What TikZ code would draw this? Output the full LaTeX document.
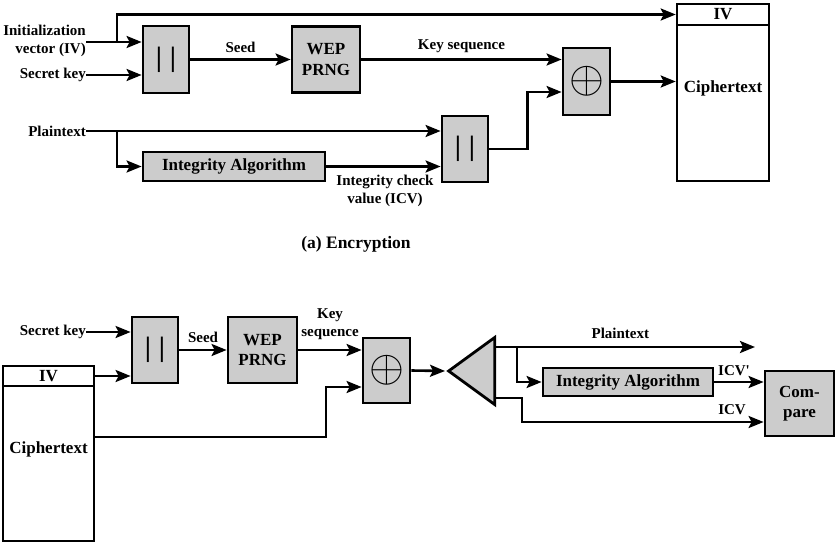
\documentclass[tikz,border=0pt]{standalone}
\usepackage{fontspec}
\setmainfont{Liberation Serif}
\usetikzlibrary{arrows.meta,shapes.geometric}
\begin{document}
\begin{tikzpicture}[x=1pt,y=-1pt,
    font=\bfseries\fontsize{15}{18}\selectfont,
    box/.style={draw, line width=2.8pt, fill=black!20, inner sep=0pt,
        font=\bfseries\fontsize{17}{20.5}\selectfont, align=center},
    cell/.style={draw, line width=2.6pt, fill=white, inner sep=0pt,
        font=\bfseries\fontsize{17}{19}\selectfont},
    arr/.style={line width=2.6pt, -{Stealth[length=15pt,width=12pt,inset=3pt]}},
    lbl/.style={inner sep=0pt, align=center}]
    \useasboundingbox (0,0) rectangle (838,546);

    % (a) encryption
    \node[box, minimum width=46, minimum height=67] (cat1) at (166,59.5)
        {\fontsize{28}{28}\selectfont |\hspace{8pt}|};
    \node[box, minimum width=68, minimum height=66] (wep1) at (326,59.5)
        {WEP\\PRNG};
    \node[box, minimum width=182, minimum height=29] (ia1) at (234,166.5)
        {Integrity Algorithm};
    \node[box, minimum width=46, minimum height=66] (cat2) at (465,149)
        {\fontsize{28}{28}\selectfont |\hspace{8pt}|};
    \node[box, minimum width=47, minimum height=67] (xor1) at (586.5,81.5)
        {\scalebox{2.6}{$\oplus$}};
    \node[cell, minimum width=92, minimum height=21] (iv1) at (723,14.5) {IV};
    \node[cell, minimum width=92, minimum height=156] (ct1) at (723,103) {};
    \node[lbl, font=\bfseries\fontsize{17}{19}\selectfont] (ct1txt)
        at (723,88) {Ciphertext};

    \node[lbl, anchor=east, align=right] (ivin) at (86,41)
        {Initialization\\vector (IV)};
    \node[lbl, anchor=east] (sk1) at (86,75) {Secret key};
    \node[lbl, anchor=east] (pt1) at (86,131) {Plaintext};
    \coordinate (ivbr) at (117,42);
    \coordinate (ptbr) at (117,131);

    \draw[arr] (ivin.east |- ivbr) -- (cat1.west |- ivbr);
    \draw[arr] (ivbr) |- (iv1.west);
    \draw[arr] (sk1.east) -- (cat1.west |- sk1.east);
    \draw[arr] (cat1.east) -- (wep1.west)
        node[lbl, midway, above=6pt] (seed1) {Seed};
    \draw[arr] (wep1.east) -- (xor1.west |- wep1.east)
        node[lbl, midway, above=5pt] (ks1) {Key sequence};
    \draw[arr] (pt1.east) -- (cat2.west |- pt1.east);
    \draw[arr] (ptbr) |- (ia1.west);
    \draw[arr] (ia1.east) -- (cat2.west |- ia1.east);
    \node[lbl] (icv1) at (385,191) {Integrity check\\value (ICV)};
    \draw[arr] (cat2.east) -- ++(38,0) |- ([yshift=-10.5pt]xor1.west);
    \draw[arr] (xor1.east) -- (ct1.west |- xor1.east);

    \node[lbl, font=\bfseries\fontsize{17.5}{20}\selectfont] (capa)
        at (356,244) {(a) Encryption};

    % decryption
    \node[lbl, anchor=east] (sk2) at (86,332) {Secret key};
    \node[box, minimum width=46, minimum height=66] (cat3) at (155,350)
        {\fontsize{28}{28}\selectfont |\hspace{8pt}|};
    \node[cell, minimum width=91, minimum height=20] (iv2) at (48.5,376) {IV};
    \node[cell, minimum width=91, minimum height=155] (ct2) at (48.5,463.5) {};
    \node[lbl, font=\bfseries\fontsize{17}{19}\selectfont] (ct2txt)
        at (48.5,449) {Ciphertext};
    \node[box, minimum width=69, minimum height=66] (wep2) at (262.5,350)
        {WEP\\PRNG};
    \node[box, minimum width=47, minimum height=65] (xor2) at (386.5,370.5)
        {\scalebox{2.6}{$\oplus$}};
    \node[isosceles triangle, isosceles triangle stretches, shape border rotate=180,
        draw, line width=2.8pt, fill=black!20, inner sep=0pt,
        minimum width=67, minimum height=46, anchor=apex] (split) at (445,371) {};
    \node[box, minimum width=170, minimum height=28] (ia2) at (628,382)
        {Integrity Algorithm};
    \node[box, minimum width=69, minimum height=65] (cmp) at (799.5,403.5)
        {Com-\\pare};
    \coordinate (ptout) at (755,347);
    \coordinate (ctline) at (326,437);

    \draw[arr] (sk2.east) -- (cat3.west |- sk2.east);
    \draw[arr] (iv2.east) -- (cat3.west |- iv2.east);
    \draw[arr] (cat3.east) -- (wep2.west)
        node[lbl, midway, above=6pt] (seed2) {Seed};
    \draw[arr] (wep2.east) -- (xor2.west |- wep2.east);
    \node[lbl] (ks2) at (330,324) {Key\\sequence};
    \draw[arr] (ct2.east |- ctline) -- (ctline) |- ([yshift=-16.5pt]xor2.west);
    \draw[arr] (xor2.east) -- (split.apex);
    \draw[arr] ([yshift=24pt]split.east) -- (ptout)
        node[lbl, pos=0.48, above=7pt] (pt2) {Plaintext};
    \draw[arr] (517,347) |- (ia2.west);
    \draw[arr] (ia2.east) -- (cmp.west |- ia2.east);
    \node[lbl] (icvp) at (734,371) {ICV\textquotesingle};
    \draw[arr] ([yshift=-27pt]split.east) -- ++(26,0) |- ([yshift=-18.5pt]cmp.west);
    \node[lbl] (icv2) at (732,410) {ICV};
\end{tikzpicture}
\end{document}
